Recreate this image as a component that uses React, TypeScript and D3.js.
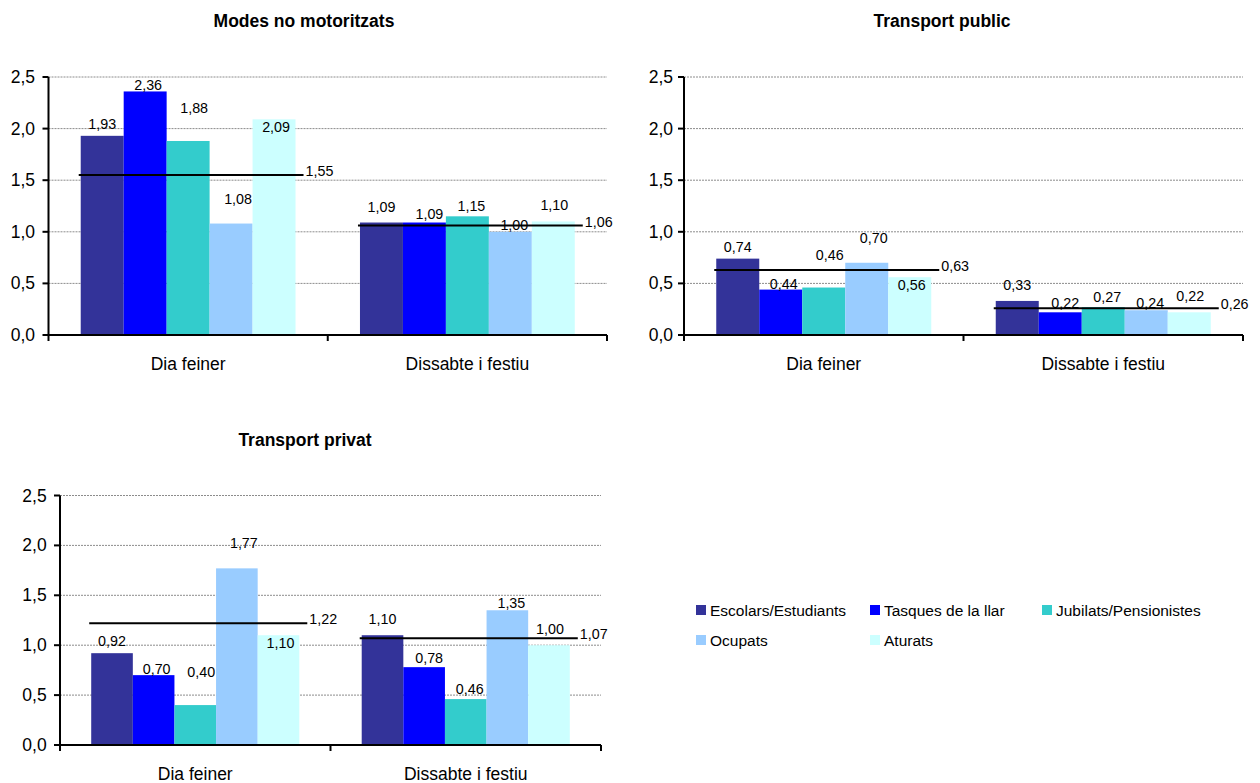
import React from "react";
import * as d3 from "d3";

const categories = ["Dia feiner", "Dissabte i festiu"];
const seriesNames = [
  "Escolars/Estudiants",
  "Tasques de la llar",
  "Jubilats/Pensionistes",
  "Ocupats",
  "Aturats",
];
const seriesColors = ["#333399", "#0000FF", "#33CCCC", "#99CCFF", "#CCFFFF"];
const yTicks = [0, 0.5, 1.0, 1.5, 2.0, 2.5];

// values per category (rows) and series (columns)
const modesNoMotoritzats = [
  [1.93, 2.36, 1.88, 1.08, 2.09],
  [1.09, 1.09, 1.15, 1.0, 1.1],
];
const modesNoMotoritzatsMitjana = [1.55, 1.06];

const transportPublic = [
  [0.74, 0.44, 0.46, 0.7, 0.56],
  [0.33, 0.22, 0.27, 0.24, 0.22],
];
const transportPublicMitjana = [0.63, 0.26];

const transportPrivat = [
  [0.92, 0.7, 0.4, 1.77, 1.1],
  [1.1, 0.78, 0.46, 1.35, 1.0],
];
const transportPrivatMitjana = [1.22, 1.07];

// label nudges (px) as placed in the original workbook
const labelRise = [
  [12, 6, 33, 25, -8],
  [16, 9, 10, 7, 16],
];
const labelShift = [
  [0, 3, 6, 7, 2],
  [0, 5, 4, 4, 1],
];

const FONT = "'Liberation Sans', Arial, Helvetica, sans-serif";
const fmt = (v: number) => v.toFixed(2).replace(".", ",");
const fmtTick = (v: number) => v.toFixed(1).replace(".", ",");

type PanelProps = {
  title: string;
  titleX: number;
  titleY: number;
  values: number[][];
  averages: number[];
  left: number;
  right: number;
  top: number;
  bottom: number;
  tickGap: number;
};

function Panel({ title, titleX, titleY, values, averages, left, right, top, bottom, tickGap }: PanelProps) {
  const y = d3.scaleLinear().domain([0, 2.5]).range([bottom, top]);
  const x = d3.scaleBand<string>().domain(categories).range([left, right]).paddingInner(0).paddingOuter(0);
  const xs = d3
    .scaleBand<string>()
    .domain(seriesNames)
    .range([0, x.bandwidth()])
    .paddingInner(0)
    .paddingOuter(0.75);
  const bw = xs.bandwidth();

  return (
    <g>
      <text x={titleX} y={titleY} textAnchor="middle" fontFamily={FONT} fontWeight="bold" fontSize={17.5} fill="#000">
        {title}
      </text>
      {yTicks
        .filter((t) => t > 0)
        .map((t) => (
          <line
            key={"g" + t}
            x1={left}
            x2={right}
            y1={y(t)}
            y2={y(t)}
            stroke="#8c8c8c"
            strokeWidth={1}
            strokeDasharray="2,1"
          />
        ))}
      {categories.map((c, ci) =>
        values[ci].map((v, si) => (
          <rect
            key={c + si}
            x={(x(c) as number) + (xs(seriesNames[si]) as number)}
            y={y(v)}
            width={bw}
            height={y(0) - y(v)}
            fill={seriesColors[si]}
          />
        ))
      )}
      {categories.map((c, ci) =>
        values[ci].map((v, si) => (
          <text
            key={"l" + c + si}
            x={(x(c) as number) + (xs(seriesNames[si]) as number) + bw / 2 + labelShift[ci][si]}
            y={y(v) - labelRise[ci][si] + 5}
            textAnchor="middle"
            fontFamily={FONT}
            fontSize={14.3}
            fill="#000"
          >
            {fmt(v)}
          </text>
        ))
      )}
      {categories.map((c, ci) => {
        const gs = (x(c) as number) + (xs(seriesNames[0]) as number);
        const ge = (x(c) as number) + (xs(seriesNames[4]) as number) + bw;
        const ya = y(averages[ci]);
        return (
          <g key={"a" + c}>
            <line x1={gs - 2} x2={ge + 8} y1={ya} y2={ya} stroke="#000" strokeWidth={2} />
            <text x={ge + 10} y={ya - 4 + 5} fontFamily={FONT} fontSize={14.3} fill="#000">
              {fmt(averages[ci])}
            </text>
          </g>
        );
      })}
      {/* axes */}
      <line x1={left} x2={left} y1={top} y2={bottom} stroke="#000" strokeWidth={2} />
      <line x1={left - 1} x2={right} y1={bottom} y2={bottom} stroke="#000" strokeWidth={2} />
      {yTicks.map((t) => (
        <g key={"t" + t}>
          <line x1={left - 6} x2={left} y1={y(t)} y2={y(t)} stroke="#000" strokeWidth={2} />
          <text
            x={left - tickGap}
            y={y(t) + 6}
            textAnchor="end"
            fontFamily={FONT}
            fontSize={17.5}
            fill="#000"
          >
            {fmtTick(t)}
          </text>
        </g>
      ))}
      {[left, left + x.bandwidth(), right].map((tx, i) => (
        <line key={"xt" + i} x1={tx} x2={tx} y1={bottom} y2={bottom + 6} stroke="#000" strokeWidth={2} />
      ))}
      {categories.map((c) => (
        <text
          key={"c" + c}
          x={(x(c) as number) + x.bandwidth() / 2}
          y={bottom + 35}
          textAnchor="middle"
          fontFamily={FONT}
          fontSize={17.5}
          fill="#000"
        >
          {c}
        </text>
      ))}
    </g>
  );
}

const legendCols = [696, 870, 1042];
const legendRows = [610, 640];

export default function App() {
  return (
    <div style={{ position: "absolute", left: 0, top: 0 }}>
      <svg width={1260} height={783} style={{ display: "block", background: "#fff" }}>
        <rect x={0} y={0} width={1260} height={783} fill="#fff" />
        <Panel
          title="Modes no motoritzats"
          titleX={304}
          titleY={27}
          values={modesNoMotoritzats}
          averages={modesNoMotoritzatsMitjana}
          left={48.5}
          right={607}
          top={77}
          bottom={335}
          tickGap={13.5}
        />
        <Panel
          title="Transport public"
          titleX={942}
          titleY={27}
          values={transportPublic}
          averages={transportPublicMitjana}
          left={684}
          right={1243}
          top={77}
          bottom={335}
          tickGap={11}
        />
        <Panel
          title="Transport privat"
          titleX={305}
          titleY={446}
          values={transportPrivat}
          averages={transportPrivatMitjana}
          left={60}
          right={601}
          top={495.5}
          bottom={745}
          tickGap={13.3}
        />
        {seriesNames.map((s, i) => {
          const col = i < 3 ? i : i - 3;
          const row = i < 3 ? 0 : 1;
          const lx = legendCols[col];
          const ly = legendRows[row];
          return (
            <g key={"lg" + s}>
              <rect x={lx} y={ly - 5} width={10} height={10} fill={seriesColors[i]} />
              <text x={lx + 14} y={ly + 5.5} fontFamily={FONT} fontSize={15.5} fill="#000">
                {s}
              </text>
            </g>
          );
        })}
      </svg>
    </div>
  );
}
